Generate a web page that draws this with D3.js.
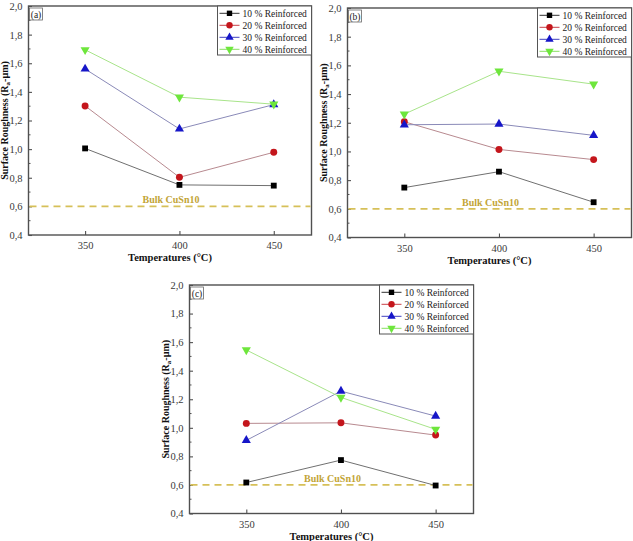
<!DOCTYPE html>
<html><head><meta charset="utf-8">
<script src="https://cdn.jsdelivr.net/npm/d3@7"></script>
<style>body{margin:0;background:#fff}svg{display:block}</style>
</head><body>
<script>
// ---- data ----
const temperatures = [350, 400, 450];
const seriesNames = ["10 % Reinforced", "20 % Reinforced", "30 % Reinforced", "40 % Reinforced"];
const panelLabels = ["(a)", "(b)", "(c)"];
const a10 = [1.005, 0.750, 0.745];
const a20 = [1.302, 0.803, 0.978];
const a30 = [1.560, 1.141, 1.311];
const a40 = [1.694, 1.363, 1.314];
const b10 = [0.748, 0.859, 0.646];
const b20 = [1.207, 1.014, 0.943];
const b30 = [1.186, 1.191, 1.112];
const b40 = [1.260, 1.559, 1.469];
const c10 = [0.617, 0.774, 0.596];
const c20 = [1.031, 1.035, 0.949];
const c30 = [0.912, 1.257, 1.082];
const c40 = [1.545, 1.213, 0.989];
const bulkValue = 0.6;
const bulkLabel = "Bulk CuSn10";
const yTicks = [0.4, 0.6, 0.8, 1.0, 1.2, 1.4, 1.6, 1.8, 2.0];
const yMinorTicks = [0.5, 0.7, 0.9, 1.1, 1.3, 1.5, 1.7, 1.9];
const xTitle = "Temperatures (°C)";

// ---- styling ----
const markerColors = ["#000000", "#c4161c", "#1616c8", "#6ee63c"];
const lineColors = ["#707070", "#b88a90", "#8a8ab8", "#a8e48a"];
const legendLineColors = ["#333333", "#c84048", "#4040c0", "#88e060"];
const markerTypes = [d3.symbolSquare, d3.symbolCircle, d3.symbolTriangle, "down"];
const panels = [
  {label: panelLabels[0], series: [a10, a20, a30, a40], x0: 28.5, x1: 311.5, y0: 6, y1: 235},
  {label: panelLabels[1], series: [b10, b20, b30, b40], x0: 347.5, x1: 631.5, y0: 8, y1: 237.5},
  {label: panelLabels[2], series: [c10, c20, c30, c40], x0: 189.5, x1: 473.5, y0: 285, y1: 513.5}
];
const serif = "'Liberation Serif','Times New Roman',serif";
const axisColor = "#505050";

const svg = d3.select("body").append("svg").attr("width", 633).attr("height", 541);

function marker(g, type, size, color, x, y) {
  if (type === "down") {
    g.append("path").attr("d", d3.symbol(d3.symbolTriangle, size)())
      .attr("transform", `translate(${x},${y}) rotate(180)`).attr("fill", color);
  } else {
    g.append("path").attr("d", d3.symbol(type, size)())
      .attr("transform", `translate(${x},${y})`).attr("fill", color);
  }
}
const sizes = [34, 38, 36, 36];

panels.forEach(p => {
  const g = svg.append("g");
  const x = d3.scaleLinear().domain([320, 470]).range([p.x0, p.x1]);
  const y = d3.scaleLinear().domain([0.4, 2.0]).range([p.y1, p.y0]);

  // minor y ticks (inward)
  g.selectAll(".mn").data(yMinorTicks).enter().append("line")
    .attr("x1", p.x0).attr("x2", p.x0 + 2)
    .attr("y1", d => y(d)).attr("y2", d => y(d))
    .attr("stroke", axisColor).attr("stroke-width", 1);

  const yAxis = g.append("g").attr("transform", `translate(${p.x0},0)`)
    .call(d3.axisLeft(y).tickValues(yTicks).tickSize(-3.5).tickPadding(6)
      .tickFormat(d => d3.format(".1f")(d).replace(".", ",")));
  yAxis.select(".domain").remove();
  yAxis.selectAll("line").attr("stroke", axisColor).attr("stroke-width", 1.1);
  yAxis.selectAll("text").attr("font-family", serif).attr("font-size", 10.5).attr("fill", "#3a3a3a");

  const xAxis = g.append("g").attr("transform", `translate(0,${p.y1})`)
    .call(d3.axisBottom(x).tickValues(temperatures).tickSize(-4).tickPadding(7).tickFormat(d3.format("d")));
  xAxis.select(".domain").remove();
  xAxis.selectAll("line").attr("stroke", axisColor).attr("stroke-width", 1.1);
  xAxis.selectAll("text").attr("font-family", serif).attr("font-size", 10.5).attr("fill", "#3a3a3a");

  // frame
  g.append("rect").attr("x", p.x0).attr("y", p.y0).attr("width", p.x1 - p.x0).attr("height", p.y1 - p.y0)
    .attr("fill", "none").attr("stroke", axisColor).attr("stroke-width", 1.4);

  // bulk line
  g.append("line").attr("x1", p.x0 + 1).attr("x2", p.x1 - 1)
    .attr("y1", y(bulkValue)).attr("y2", y(bulkValue))
    .attr("stroke", "#d6c058").attr("stroke-width", 1.8).attr("stroke-dasharray", "7,5");
  g.append("text").attr("x", (p.x0 + p.x1) / 2 + 1).attr("y", y(bulkValue) - 3)
    .attr("text-anchor", "middle").attr("font-family", serif).attr("font-weight", "bold")
    .attr("font-size", 10).attr("fill", "#c2a436").text(bulkLabel);

  // series
  p.series.forEach((vals, i) => {
    const pts = temperatures.map((t, k) => [x(t), y(vals[k])]);
    g.append("path").attr("d", d3.line()(pts)).attr("fill", "none")
      .attr("stroke", lineColors[i]).attr("stroke-width", 1);
  });
  p.series.forEach((vals, i) => {
    temperatures.forEach((t, k) => marker(g, markerTypes[i], sizes[i], markerColors[i], x(t), y(vals[k])));
  });

  // panel label box
  g.append("rect").attr("x", p.x0 + 1).attr("y", p.y0 + 2).attr("width", 13).attr("height", 12)
    .attr("fill", "#fff").attr("stroke", "#666").attr("stroke-width", 0.8);
  g.append("text").attr("x", p.x0 + 7.5).attr("y", p.y0 + 11.5).attr("text-anchor", "middle")
    .attr("font-family", serif).attr("font-size", 9.5).attr("fill", "#222").text(p.label);

  // legend
  const lw = 94, lh = 49;
  const lx = p.x1 - lw, ly = p.y0;
  g.append("rect").attr("x", lx).attr("y", ly).attr("width", lw).attr("height", lh)
    .attr("fill", "#fff").attr("stroke", "#555").attr("stroke-width", 1);
  seriesNames.forEach((name, i) => {
    const yy = ly + 7.3 + i * 12;
    g.append("line").attr("x1", lx + 2).attr("x2", lx + 22).attr("y1", yy).attr("y2", yy)
      .attr("stroke", legendLineColors[i]).attr("stroke-width", 1);
    marker(g, markerTypes[i], sizes[i] * 0.85, markerColors[i], lx + 12, yy);
    g.append("text").attr("x", lx + 25).attr("y", yy + 3.3).attr("font-family", serif)
      .attr("font-size", 9.5).attr("fill", "#222").text(name);
  });

  // axis titles
  g.append("text").attr("x", (p.x0 + p.x1) / 2).attr("y", p.y1 + 26)
    .attr("text-anchor", "middle").attr("font-family", serif).attr("font-weight", "bold")
    .attr("font-size", 10.5).attr("fill", "#111").text(xTitle);
  const yt = g.append("text").attr("transform", `translate(${p.x0 - 21},${(p.y0 + p.y1) / 2}) rotate(-90)`)
    .attr("text-anchor", "middle").attr("font-family", serif).attr("font-weight", "bold")
    .attr("font-size", 10).attr("fill", "#111");
  yt.append("tspan").text("Surface Roughness (R");
  yt.append("tspan").attr("font-size", 7).attr("dy", 2.5).text("a");
  yt.append("tspan").attr("dy", -2.5).text("-µm)");
});
</script>
</body></html>
